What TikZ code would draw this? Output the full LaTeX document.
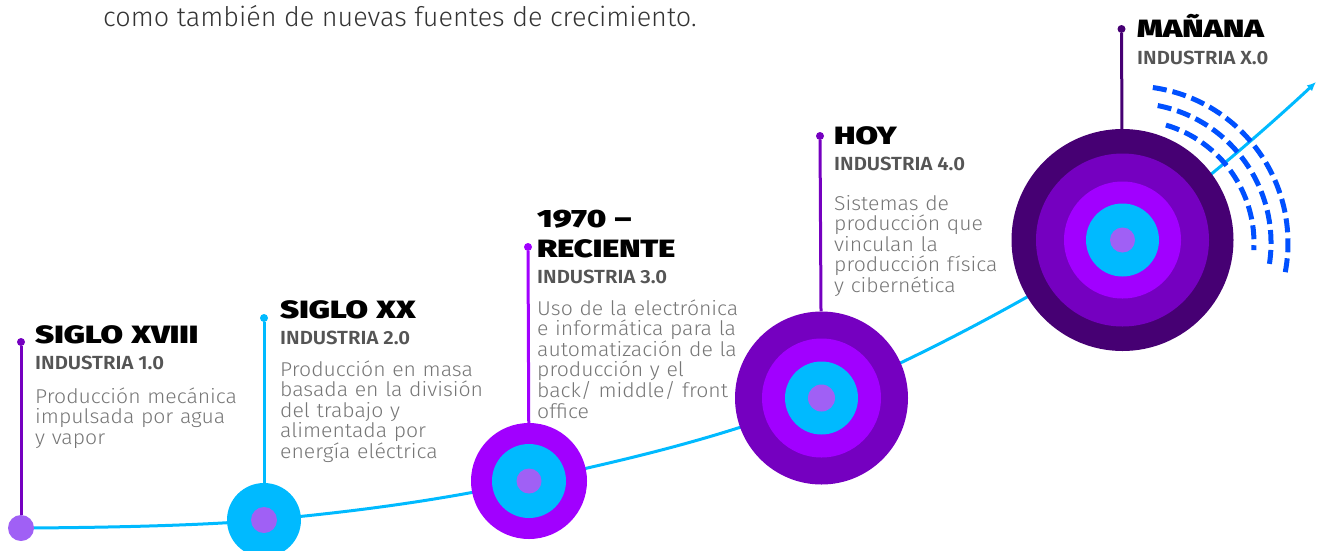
\documentclass[tikz,border=0pt]{standalone}
\usepackage{fontspec}
\setmainfont{Fira Sans Light}
\newfontfamily\heavyf{Fira Sans Black}[FakeStretch=1.3]
\newfontfamily\semif{Fira Sans SemiBold}[FakeStretch=1.07]
\newfontfamily\lightf{Fira Sans Light}[FakeStretch=1.06]
\newfontfamily\topf{Fira Sans Light}
\usetikzlibrary{arrows.meta,calc}
\definecolor{cyanA}{HTML}{00BAFF}
\definecolor{lavA}{HTML}{A060F5}
\definecolor{purA}{HTML}{A100FF}
\definecolor{purB}{HTML}{7500C0}
\definecolor{purC}{HTML}{460073}
\definecolor{blueA}{HTML}{0050FF}
\definecolor{subgray}{HTML}{555555}
\definecolor{bodygray}{HTML}{767676}
\definecolor{topgray}{HTML}{333333}
\tikzset{
  title/.style={anchor=base west, inner sep=0pt, align=left, text width=220pt,
    font=\heavyf\fontsize{25}{30}\selectfont, text=black},
  sub/.style={anchor=base west, inner sep=0pt,
    font=\semif\fontsize{19}{22}\selectfont, text=subgray},
  body/.style={anchor=base west, inner sep=0pt, align=left, text width=260pt,
    font=\lightf\fontsize{20}{20.6}\selectfont, text=bodygray},
  disc/.style={circle, inner sep=0pt, minimum size=#1, draw=none},
  dot/.style={circle, inner sep=0pt, minimum size=8pt, draw=none},
  stem/.style={line width=3pt},
  curve/.style={line width=3pt, draw=cyanA},
  dasharc/.style={line width=5pt, draw=blueA, dash pattern=on 14pt off 6pt}
}
\begin{document}
\begin{tikzpicture}[x=1pt,y=-1pt]
\useasboundingbox (0,0) rectangle (1328,550);
\clip (0,0) rectangle (1328,550);

% centres
\coordinate (p1) at (21,528);
\coordinate (p2) at (264,520);
\coordinate (p3) at (529,481);
\coordinate (p4) at (821.5,398);
\coordinate (p5) at (1122.5,240);
\coordinate (pend) at (1316,82);
\coordinate (ac) at (1131,243);

% top sentence
\node[anchor=base west, inner sep=0pt, font=\topf\fontsize{27}{30}\selectfont, text=topgray] (toptext) at (103,26) {como también de nuevas fuentes de crecimiento.};

% timeline curve
\draw[curve, -{Latex[length=9pt,width=8pt]}] plot[smooth, tension=0.6] coordinates {(p1) (p2) (p3) (p4) (p5) (pend)};

% dashed arcs
\draw[dasharc] (ac) ++(-82:157) arc[start angle=-82, end angle=11.5, radius=157];
\draw[dasharc] (ac) ++(-79:140) arc[start angle=-79, end angle=9.3, radius=140];
\draw[dasharc] (ac) ++(-73.5:123) arc[start angle=-73.5, end angle=3.3, radius=123];

% circles
\node[disc=26pt, fill=lavA] (c1) at (p1) {};

\node[disc=74pt, fill=cyanA] (c2) at (p2) {};
\node[disc=26pt, fill=lavA] (c2a) at (p2) {};

\node[disc=116pt, fill=purA] (c3) at (p3) {};
\node[disc=74pt, fill=cyanA] (c3b) at (p3) {};
\node[disc=25pt, fill=lavA] (c3a) at (p3) {};

\node[disc=173pt, fill=purB] (c4) at (p4) {};
\node[disc=119pt, fill=purA] (c4c) at (p4) {};
\node[disc=73pt, fill=cyanA] (c4b) at (p4) {};
\node[disc=27pt, fill=lavA] (c4a) at (p4) {};

\node[disc=222pt, fill=purC] (c5) at (p5) {};
\node[disc=173pt, fill=purB] (c5d) at (p5) {};
\node[disc=117pt, fill=purA] (c5c) at (p5) {};
\node[disc=73pt, fill=cyanA] (c5b) at (p5) {};
\node[disc=25pt, fill=lavA] (c5a) at (p5) {};

% stems
\node[dot, fill=purB] (d1) at (21,342) {};
\node[dot, fill=cyanA] (d2) at (264,318) {};
\node[dot, fill=purA] (d3) at (528,247) {};
\node[dot, fill=purB] (d4) at (820,136) {};
\node[dot, fill=purC] (d5) at (1121.5,29) {};
\draw[stem, draw=purB] (d1) -- (c1);
\draw[stem, draw=cyanA] (d2) -- (c2);
\draw[stem, draw=purA] (d3) -- (c3);
\draw[stem, draw=purB] (d4) -- (c4);
\draw[stem, draw=purC] (d5) -- (c5);

% texts
\node[title] (t1) at (35,343) {SIGLO XVIII};
\node[sub] (s1) at (35,369) {INDUSTRIA 1.0};
\node[body] (b1) at (35,403) {Producción mecánica\\impulsada por agua\\y vapor};

\node[title] (t2) at (280,318) {SIGLO XX};
\node[sub] (s2) at (280,344) {INDUSTRIA 2.0};
\node[body] (b2) at (280,376) {Producción en masa\\basada en la división\\del trabajo y\\alimentada por\\energía eléctrica};

\node[title] (t3) at (537,227) {1970 –\\RECIENTE};
\node[sub] (s3) at (537,283) {INDUSTRIA 3.0};
\node[body] (b3) at (537,315) {Uso de la electrónica\\e informática para la\\automatización de la\\producción y el\\back/ middle/ front\\office};

\node[title] (t4) at (834,144) {HOY};
\node[sub] (s4) at (834,170) {INDUSTRIA 4.0};
\node[body] (b4) at (834,210) {Sistemas de\\producción que\\vinculan la\\producción física\\y cibernética};

\node[title] (t5) at (1137,37) {MAÑANA};
\node[sub] (s5) at (1137,64) {INDUSTRIA X.0};
\end{tikzpicture}
\end{document}
